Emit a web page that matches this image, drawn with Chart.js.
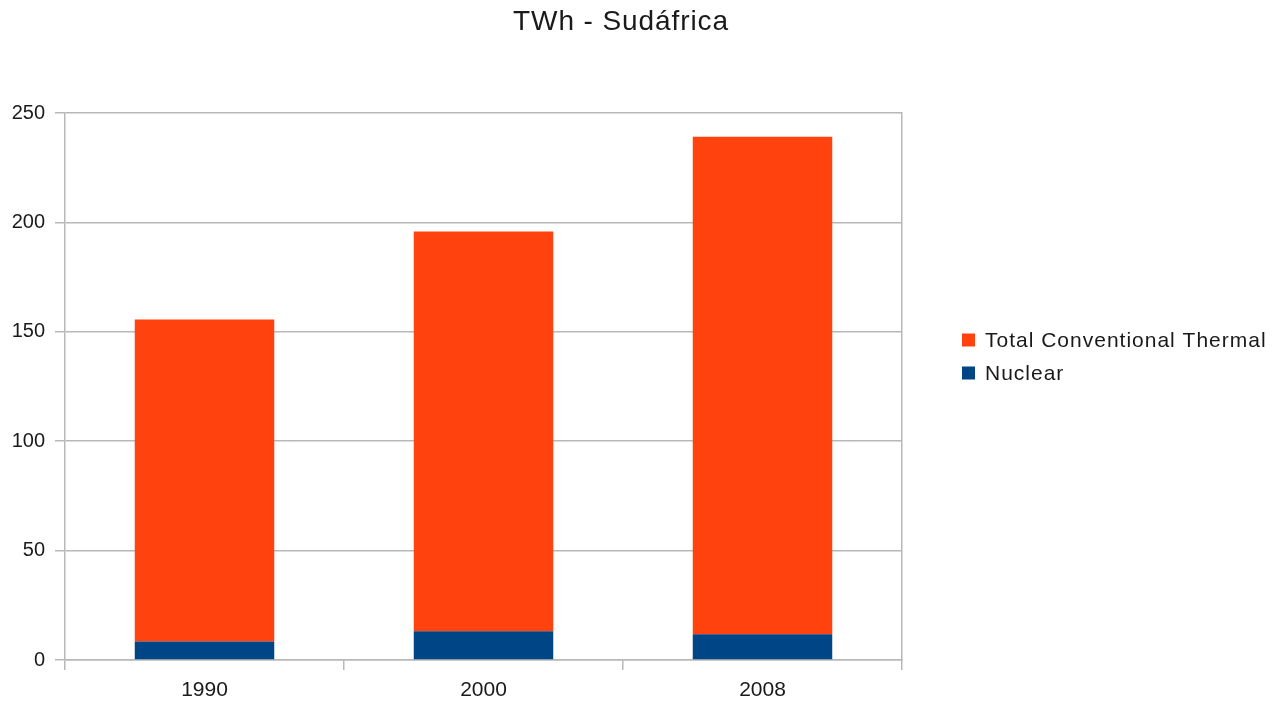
<!DOCTYPE html>
<html>
<head>
<meta charset="utf-8">
<title>TWh - Sudáfrica</title>
<script src="https://cdn.jsdelivr.net/npm/chart.js@4/dist/chart.umd.min.js"></script>
<style>
  html, body { margin: 0; padding: 0; background: #ffffff; }
  #wrap { width: 1279px; height: 703px; position: relative; }
</style>
</head>
<body>
<div id="wrap"><canvas id="chart"></canvas></div>
<script>
// Electricity generation in South Africa, TWh
const years = ['1990', '2000', '2008'];
const nuclear = [8.5, 13.1, 11.8];
const thermal = [147.1, 182.7, 227.3];
const yTicks = [0, 50, 100, 150, 200, 250];

const seriesNames = ['Nuclear', 'Total Conventional Thermal'];
const seriesColors = ['#004586', '#ff420e'];
const chartTitle = 'TWh - Sudáfrica';

const FONT = "'Liberation Sans', Arial, sans-serif";
const GRID = '#b8b8b8';
const INK = '#1a1a1a';

// Page title centred on the canvas, and the legend on the right (top series first)
const decorations = {
  id: 'decorations',
  afterDraw(chart) {
    const ctx = chart.ctx;
    ctx.save();
    ctx.fillStyle = INK;
    ctx.textBaseline = 'middle';
    ctx.textAlign = 'center';
    ctx.font = '28px ' + FONT;
    ctx.letterSpacing = '0.9px';
    ctx.fillText(chartTitle, 621, 22);

    const items = chart.data.datasets.slice().reverse();
    const x0 = 962, y0 = 340, step = 33, box = 13;
    ctx.font = '21px ' + FONT;
    ctx.letterSpacing = '1px';
    ctx.textAlign = 'left';
    items.forEach((ds, i) => {
      const cy = y0 + i * step;
      ctx.fillStyle = ds.backgroundColor;
      ctx.fillRect(x0, cy - box / 2, box, box);
      ctx.fillStyle = INK;
      ctx.fillText(ds.label, x0 + 23, cy + 1);
    });
    ctx.restore();
  }
};

new Chart(document.getElementById('chart'), {
  type: 'bar',
  data: {
    labels: years,
    datasets: [
      { label: seriesNames[0], data: nuclear, backgroundColor: seriesColors[0] },
      { label: seriesNames[1], data: thermal, backgroundColor: seriesColors[1] }
    ]
  },
  options: {
    responsive: true,
    maintainAspectRatio: false,
    animation: false,
    devicePixelRatio: 1,
    layout: { padding: { left: 0, right: 377, top: 113, bottom: 0 } },
    datasets: { bar: { categoryPercentage: 1.0, barPercentage: 0.5 } },
    plugins: {
      legend: { display: false },
      tooltip: { enabled: false },
      title: { display: false }
    },
    scales: {
      x: {
        stacked: true,
        offset: true,
        grid: {
          offset: true,
          drawOnChartArea: false,
          drawTicks: true,
          tickLength: 10,
          color: GRID,
          lineWidth: 1.5
        },
        border: { display: true, color: GRID, width: 1.5 },
        ticks: {
          color: INK,
          padding: 8,
          font: { family: FONT, size: 21 }
        },
        afterFit(scale) { scale.height = 43; }
      },
      y: {
        stacked: true,
        min: 0,
        max: 250,
        afterBuildTicks(scale) { scale.ticks = yTicks.map(v => ({ value: v })); },
        grid: {
          color: GRID,
          lineWidth: 1.5,
          drawTicks: true,
          tickLength: 10
        },
        border: { display: true, color: GRID, width: 1.5 },
        ticks: {
          color: INK,
          padding: 10,
          font: { family: FONT, size: 20 }
        },
        afterFit(scale) { scale.width = 65; }
      },
      yRight: {
        position: 'right',
        min: 0,
        max: 250,
        grid: { drawOnChartArea: false, drawTicks: false },
        border: { display: true, color: GRID, width: 1.5 },
        ticks: { display: false },
        afterFit(scale) { scale.width = 0; }
      }
    }
  },
  plugins: [decorations]
});
</script>
</body>
</html>
